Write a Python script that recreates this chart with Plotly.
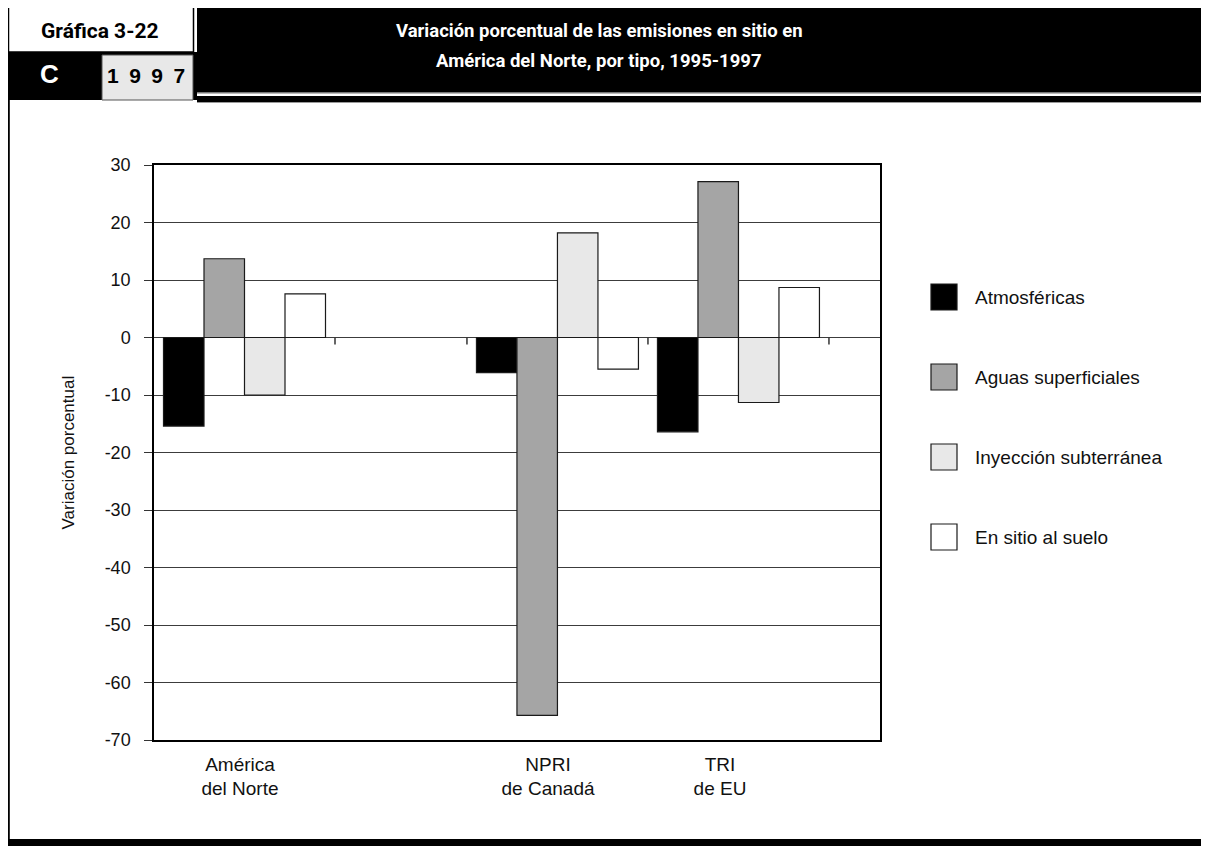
import plotly.graph_objects as go

# ---------------- data ----------------
categories = ["América<br>del Norte", "NPRI<br>de Canadá", "TRI<br>de EU"]
series_names = ["Atmosféricas", "Aguas superficiales", "Inyección subterránea", "En sitio al suelo"]
atmosfericas = [-15.4, -6.1, -16.4]
aguas_superficiales = [13.7, -65.7, 27.1]
inyeccion_subterranea = [-10.0, 18.2, -11.3]
en_sitio_suelo = [7.6, -5.5, 8.7]
y_ticks = [30, 20, 10, 0, -10, -20, -30, -40, -50, -60, -70]
y_tick_labels = [str(v) for v in y_ticks]
title_lines = ["Variación porcentual de las emisiones en sitio en",
               "América del Norte, por tipo, 1995-1997"]
chart_number = "Gráfica 3-22"
section_letter = "C"
year_label = "1997"
y_title = "Variación porcentual"

series_values = [atmosfericas, aguas_superficiales, inyeccion_subterranea, en_sitio_suelo]

# ---------------- layout constants ----------------
OFF = 8                                   # page body margin
W, H = 1201, 838                          # figure size
L, R, T, B = 154, 880, 165, 740           # plot area in page pixels
cat_center = [0.5, 2.229, 3.229]          # group centres on the numeric x axis
label_pos = [0.475, 2.177, 3.127]         # where the category labels sit
x_range = [0, 4.011]
colors = ["#000000", "#a5a5a5", "#e8e8e8", "#ffffff"]
edge = "#1a1a1a"
FONT = "Liberation Sans, Arial, Helvetica, sans-serif"
BOLDF = "Roboto, Liberation Sans, Arial, sans-serif"


def fx(p):
    return (p - L) / (R - L)


def fy(p):
    return (B - p) / (B - T)


fig = go.Figure()
for name, vals, col in zip(series_names, series_values, colors):
    fig.add_trace(go.Bar(
        x=cat_center, y=vals, name=name,
        marker=dict(color=col, line=dict(color=edge, width=1.2)),
        showlegend=False, hoverinfo="skip",
    ))

shapes = []
# category tick marks hanging below the zero line
bounds = sorted({round(c - 0.5, 3) for c in cat_center} | {round(c + 0.5, 3) for c in cat_center})
for b in bounds:
    if b <= x_range[0]:
        continue
    shapes.append(dict(type="line", xref="x", yref="y", ysizemode="pixel", yanchor=0,
                       x0=b, x1=b, y0=0, y1=-7, line=dict(color="#333333", width=1.5)))

# legend (drawn by hand: large square keys, wide spacing)
annotations = []
leg_y0, leg_step, key = 297, 80, 26
for i, (name, col) in enumerate(zip(series_names, colors)):
    cy = leg_y0 + i * leg_step
    shapes.append(dict(type="rect", xref="paper", yref="paper",
                       x0=fx(931), x1=fx(931 + key), y0=fy(cy - key / 2), y1=fy(cy + key / 2),
                       fillcolor=col, line=dict(color=edge, width=1.2)))
    annotations.append(dict(text=name, xref="paper", yref="paper", x=fx(973), y=fy(cy),
                            xanchor="left", yanchor="middle", showarrow=False,
                            font=dict(family=FONT, size=19, color="#111111")))


# header / frame decoration
def rect(x0, y0, x1, y1, fill, line_color=None, lw=0):
    d = dict(type="rect", xref="paper", yref="paper", layer="above",
             x0=fx(x0), x1=fx(x1), y0=fy(y1), y1=fy(y0), fillcolor=fill)
    d["line"] = dict(color=line_color, width=lw) if line_color else dict(width=0)
    return d


RIGHT = OFF + W + 2
BOTTOM = OFF + H + 2
shapes += [
    rect(8.5, 6.5, 193.5, 52, "#ffffff", "#000000", 1.5),   # "Gráfica" box
    rect(8, 52, 197, 100, "#000000"),                       # black band
    rect(102, 55, 193, 100, "#e8e8e8", "#555555", 1),       # year box
    rect(197, 6, RIGHT, 92, "#000000"),                     # title block
    rect(197, 92, RIGHT, 93.5, "#777777"),
    rect(197, 96, RIGHT, 102, "#000000"),
    rect(197, 102, RIGHT, 103, "#999999"),
    rect(8, 839, RIGHT, BOTTOM, "#000000"),                 # bottom bar
    rect(8, 100, 9.8, 839, "#000000"),                      # left frame line
]

annotations += [
    dict(text=f"<b>{chart_number}</b>", xref="paper", yref="paper", x=fx(100), y=fy(31),
         xanchor="center", yanchor="middle", showarrow=False,
         font=dict(family=BOLDF, size=21, color="#000000")),
    dict(text=f"<b>{section_letter}</b>", xref="paper", yref="paper", x=fx(49), y=fy(74),
         xanchor="center", yanchor="middle", showarrow=False,
         font=dict(family=FONT, size=26, color="#ffffff")),
    dict(text="<b>" + "\u2002".join(year_label) + "</b>", xref="paper", yref="paper",
         x=fx(146), y=fy(75), xanchor="center", yanchor="middle", showarrow=False,
         font=dict(family=FONT, size=21, color="#000000")),
    dict(text=y_title, xref="paper", yref="paper", x=fx(68), y=0.5, textangle=-90,
         xanchor="center", yanchor="middle", showarrow=False,
         font=dict(family=FONT, size=17, color="#111111")),
]
title_y = [31, 61]
for line, ty in zip(title_lines, title_y):
    annotations.append(dict(text=f"<b>{line}</b>", xref="paper", yref="paper", x=fx(599), y=fy(ty),
                            xanchor="center", yanchor="middle", showarrow=False,
                            font=dict(family=BOLDF, size=18.5, color="#ffffff")))

fig.update_layout(
    width=W, height=H, autosize=False,
    margin=dict(l=L - OFF, r=(OFF + W) - R, t=T - OFF, b=(OFF + H) - B, pad=0),
    paper_bgcolor="#ffffff", plot_bgcolor="#ffffff",
    barmode="group", bargap=0.105, bargroupgap=0,
    showlegend=False,
    shapes=shapes, annotations=annotations,
    font=dict(family=FONT, color="#111111"),
)
fig.update_xaxes(
    range=x_range, tickvals=label_pos, ticktext=categories, ticks="",
    showgrid=False, zeroline=False, showline=True, linecolor="#000000", linewidth=1.5,
    mirror=True, tickfont=dict(family=FONT, size=19, color="#111111"),
    ticklabelstandoff=6,
)
fig.update_yaxes(
    range=[-70, 30], tickvals=y_ticks, ticktext=y_tick_labels, ticks="outside", ticklen=8,
    tickwidth=1.3, tickcolor="#333333", showgrid=True, gridcolor="#3c3c3c", gridwidth=1.3,
    zeroline=True, zerolinecolor="#3c3c3c", zerolinewidth=1.3,
    showline=True, linecolor="#000000", linewidth=1.5, mirror=True,
    tickfont=dict(family=FONT, size=18, color="#111111"), ticklabelstandoff=10,
)

fig.write_html("out.html")
